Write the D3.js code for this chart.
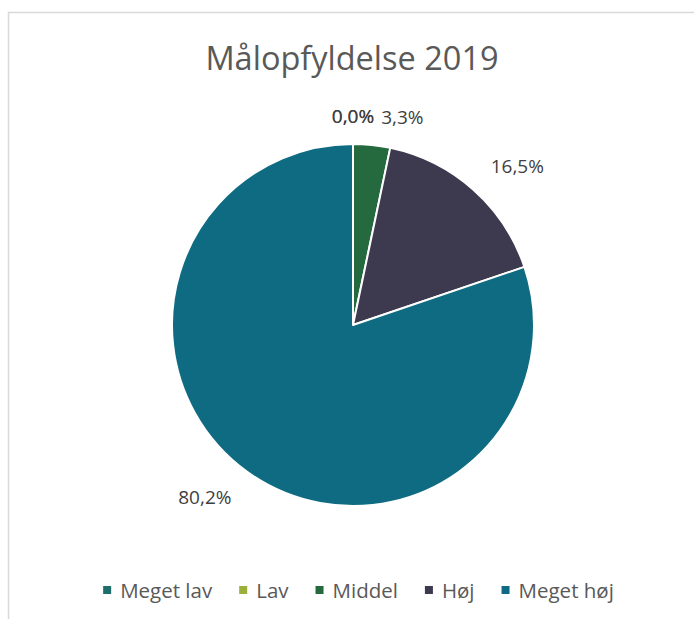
<!DOCTYPE html>
<html><head><meta charset="utf-8">
<script src="https://cdn.jsdelivr.net/npm/d3@7"></script>
<style>html,body{margin:0;padding:0;background:#fff;}svg{display:block;}</style>
</head><body>
<script>
const title = "Målopfyldelse 2019";
const categories = ["Meget lav", "Lav", "Middel", "Høj", "Meget høj"];
const values = [0.0, 0.0, 3.3, 16.5, 80.2];
const colors = ["#1E6F6C", "#9BAF3A", "#25693F", "#3D394E", "#0E6B82"];
const labelTexts = ["0,0%", "0,0%", "3,3%", "16,5%", "80,2%"];

const W = 694, H = 619;
const font = "'Open Sans', 'Liberation Sans', sans-serif";
const svg = d3.select("body").append("svg").attr("width", W).attr("height", H);
svg.append("rect").attr("width", W).attr("height", H).attr("fill", "#fff");
// frame
svg.append("path").attr("d", `M8.5,${H} V12.5 H${W}`).attr("fill", "none").attr("stroke", "#D9D9D9").attr("stroke-width", 1.5);

svg.append("text").attr("x", 352).attr("y", 70).attr("text-anchor", "middle")
  .attr("font-family", font).attr("font-size", 32.5).attr("fill", "#595959").text(title);

const cx = 353, cy = 325, r = 181;
const pie = d3.pie().sort(null).value(d => d)(values);
const arc = d3.arc().innerRadius(0).outerRadius(r);
const g = svg.append("g").attr("transform", `translate(${cx},${cy})`);
g.selectAll("path").data(pie).join("path")
  .attr("d", arc).attr("fill", (d, i) => colors[i])
  .attr("stroke", "#fff").attr("stroke-width", 2).attr("stroke-linejoin", "round");

// labels placed just outside the pie, box edge facing the centre, with overlap resolution
const LR = r + 19, fs = 19, gap = 7;
let prevRight = -Infinity, prevAngle = null;
pie.forEach((d, i) => {
  const a = (d.startAngle + d.endAngle) / 2;
  const t = g.append("text").attr("font-family", font).attr("font-size", fs)
    .attr("fill", "#404040").attr("text-anchor", "middle").attr("dominant-baseline", "central")
    .text(labelTexts[i]);
  const w = t.node().getComputedTextLength();
  const sx = Math.sign(Math.round(Math.sin(a) * 1000)), sy = Math.sign(Math.cos(a));
  let x = Math.sin(a) * LR + sx * (w / 2 + 5);
  let y = -Math.cos(a) * LR - sy * fs / 2;
  if (prevAngle !== null && a !== prevAngle && Math.abs(a) < 0.5 && x - w / 2 < prevRight + gap) {
    x = prevRight + gap + w / 2;
  }
  t.attr("x", x).attr("y", y);
  prevRight = x + w / 2;
  prevAngle = a;
});

// legend
const lg = svg.append("g");
let lx = 0;
categories.forEach((c, i) => {
  const it = lg.append("g");
  it.append("rect").attr("x", lx).attr("y", -4).attr("width", 8).attr("height", 8).attr("fill", colors[i]);
  const t = it.append("text").attr("x", lx + 17).attr("y", 0).attr("dominant-baseline", "central")
    .attr("font-family", font).attr("font-size", 20.5).attr("fill", "#595959").text(c);
  lx += 17 + t.node().getComputedTextLength() + 27;
});
const total = lx - 27;
lg.attr("transform", `translate(${(101 + 616) / 2 - total / 2},590)`);
</script>
</body></html>
